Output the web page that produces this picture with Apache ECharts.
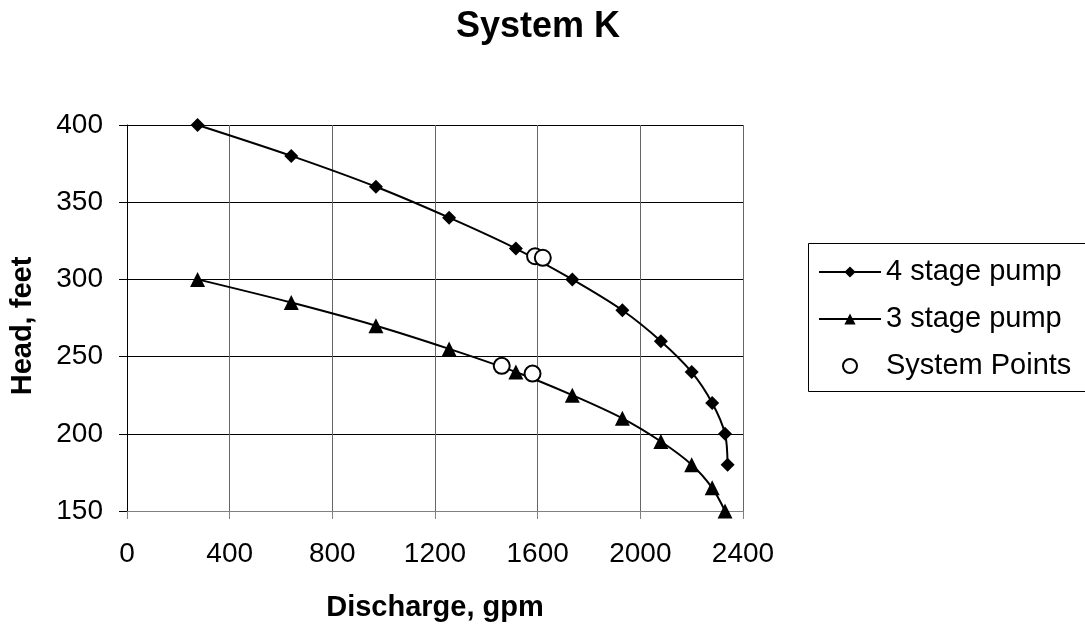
<!DOCTYPE html>
<html>
<head>
<meta charset="utf-8">
<script src="https://cdn.jsdelivr.net/npm/echarts@6/dist/echarts.min.js"></script>
<style>
html,body{margin:0;padding:0;background:#fff;}
#chart{width:1085px;height:627px;}
</style>
</head>
<body>
<div id="chart"></div>
<script>
const titleText = 'System K';
const xAxisName = 'Discharge, gpm';
const yAxisName = 'Head, feet';
const seriesNames = ['4 stage pump', '3 stage pump', 'System Points'];

const pump4Flow = [275, 640, 970, 1255, 1515, 1735, 1930, 2080, 2200, 2280, 2330, 2340];
const pump4Head = [400, 380, 360, 340, 320, 300, 280, 260, 240, 220, 200, 180];
const pump3Flow = [275, 640, 970, 1255, 1515, 1735, 1930, 2080, 2200, 2280, 2330];
const pump3Head = [300, 285, 270, 255, 240, 225, 210, 195, 180, 165, 150];
const sysFlow = [1590, 1620, 1460, 1580];
const sysHead = [315, 314, 244, 239];

const xTicks = [0, 400, 800, 1200, 1600, 2000, 2400];
const yTicks = [150, 200, 250, 300, 350, 400];

const pair = (xs, ys) => xs.map((x, i) => [x, ys[i]]);
const FONT = '"Liberation Sans", Arial, sans-serif';

const chart = echarts.init(document.getElementById('chart'), null, {renderer: 'canvas'});
chart.setOption({
  backgroundColor: '#fff',
  animation: false,
  title: {
    text: titleText,
    left: 456,
    top: 9,
    padding: 0,
    textStyle: {fontFamily: FONT, fontSize: 36, fontWeight: 'bold', color: '#000'}
  },
  grid: {left: 126, right: 342, top: 125, bottom: 116, containLabel: false},
  graphic: [{
    type: 'polyline',
    shape: {points: [[1200, 243.5], [808.5, 243.5], [808.5, 391.5], [1200, 391.5]]},
    style: {fill: null, stroke: '#000', lineWidth: 1},
    silent: true
  }],
  xAxis: {
    type: 'value',
    min: xTicks[0], max: xTicks[xTicks.length - 1], interval: 400,
    name: xAxisName,
    nameLocation: 'middle',
    nameGap: 82,
    nameTextStyle: {fontFamily: FONT, fontSize: 29, fontWeight: 'bold', color: '#000'},
    axisLine: {show: true, onZero: false, lineStyle: {color: '#808080', width: 1}},
    axisTick: {show: true, inside: false, length: 8, lineStyle: {color: '#808080'}},
    axisLabel: {fontFamily: FONT, fontSize: 28, color: '#000', margin: 29, formatter: v => String(v)},
    splitLine: {show: true, lineStyle: {color: '#666', width: 1}}
  },
  yAxis: {
    type: 'value',
    min: yTicks[0], max: yTicks[yTicks.length - 1], interval: 50,
    name: yAxisName,
    nameLocation: 'middle',
    nameGap: 90,
    nameRotate: 90,
    nameTextStyle: {fontFamily: FONT, fontSize: 29, fontWeight: 'bold', color: '#000', padding: [0, 16, 0, 0]},
    axisLine: {show: true, onZero: false, lineStyle: {color: '#000', width: 1}},
    axisTick: {show: true, inside: false, length: 8, lineStyle: {color: '#000'}},
    axisLabel: {fontFamily: FONT, fontSize: 28, color: '#000', margin: 24, formatter: v => String(v)},
    splitLine: {show: true, lineStyle: {color: '#000', width: 1}}
  },
  legend: {
    orient: 'vertical',
    left: 808,
    top: 243,
    padding: [14, 10, 11, 10],
    itemGap: 17,
    itemWidth: 62,
    itemHeight: 14,
    borderWidth: 0,
    textStyle: {fontFamily: FONT, fontSize: 29, color: '#000', lineHeight: 30},
    data: seriesNames
  },
  series: [
    {
      name: seriesNames[0],
      type: 'line',
      data: pair(pump4Flow, pump4Head),
      smooth: 0.3,
      symbol: 'diamond',
      symbolSize: 14,
      lineStyle: {color: '#000', width: 2},
      itemStyle: {color: '#000'},
      z: 2
    },
    {
      name: seriesNames[1],
      type: 'line',
      data: pair(pump3Flow, pump3Head),
      smooth: 0.3,
      symbol: 'triangle',
      symbolSize: 15,
      lineStyle: {color: '#000', width: 2},
      itemStyle: {color: '#000'},
      z: 2
    },
    {
      name: seriesNames[2],
      type: 'scatter',
      data: pair(sysFlow, sysHead),
      symbol: 'circle',
      symbolSize: 16,
      itemStyle: {color: '#fff', borderColor: '#000', borderWidth: 2, opacity: 1},
      z: 3
    }
  ]
});
</script>
</body>
</html>
